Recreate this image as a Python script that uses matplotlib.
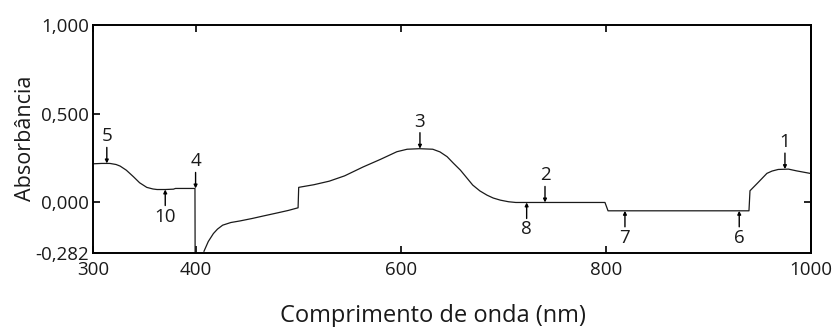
import numpy as np
import matplotlib
matplotlib.use("Agg")
import matplotlib.pyplot as plt
from matplotlib.ticker import FuncFormatter

plt.rcParams["font.family"] = ["Open Sans", "DejaVu Sans"]

# espectro de absorção (nm, absorbância); NaN separa o trecho que sai do gráfico
comprimento = [300, 308, 316, 322, 326, 332, 339, 345, 352, 358, 362, 370, 378, 380, 399,
               399.2, np.nan,
               407.8, 412, 417, 421, 426, 434, 443, 455, 465, 480, 490, 499.6,
               500.2, 503, 515, 530, 545, 563, 580, 596, 606, 618, 631, 638, 645, 651,
               658, 664, 670, 677, 684, 690, 697, 705, 712, 799, 802, 939.5,
               940.5, 948, 957, 962, 968, 978, 986, 1000]
absorbancia = [0.218, 0.22, 0.22, 0.214, 0.205, 0.182, 0.145, 0.111, 0.085, 0.076, 0.073, 0.073, 0.075, 0.079, 0.079,
               -0.40, np.nan,
               -0.275, -0.22, -0.175, -0.15, -0.128, -0.113, -0.104, -0.09, -0.077, -0.058, -0.045, -0.03,
               0.085, 0.088, 0.10, 0.12, 0.15, 0.20, 0.243, 0.286, 0.30, 0.303, 0.30, 0.285, 0.258, 0.222,
               0.182, 0.14, 0.098, 0.065, 0.041, 0.025, 0.013, 0.004, 0.0, 0.0, -0.047, -0.047,
               0.066, 0.11, 0.164, 0.177, 0.186, 0.188, 0.178, 0.163]

# picos marcados: rótulo, posição (nm), absorbância, lado da seta
picos = ["1", "2", "3", "4", "5", "6", "7", "8", "10"]
picos_nm = [974.6, 740.5, 618.5, 399.6, 313, 930, 818.5, 722.6, 370]
picos_abs = [0.188, 0.0, 0.303, 0.079, 0.22, -0.047, -0.047, 0.0, 0.073]
picos_lado = ["cima", "cima", "cima", "cima", "cima", "baixo", "baixo", "baixo", "baixo"]

y_ticks = [-0.282, 0.0, 0.5, 1.0]
x_ticks = [300, 400, 600, 800, 1000]

fig = plt.figure(figsize=(8.34, 3.27), dpi=100)
ax = fig.add_axes([0.1121, 0.2278, 0.8603, 0.6957])

ax.plot(comprimento, absorbancia, color="#1a1a1a", lw=0.9)

for rot, xn, ya, lado in zip(picos, picos_nm, picos_abs, picos_lado):
    s = 1 if lado == "cima" else -1
    ax.annotate("", xy=(xn, ya), xytext=(0, s * 16), textcoords="offset pixels",
                arrowprops=dict(arrowstyle="-|>", lw=1.0, color="black",
                                mutation_scale=5, shrinkA=0, shrinkB=0))
    ax.annotate(rot, xy=(xn, ya), xytext=(0, s * 18), textcoords="offset pixels",
                ha="center", va="bottom" if s > 0 else "top", fontsize=13.5, color="#1a1a1a")

ax.set_xlim(300, 1000)
ax.set_ylim(-0.282, 1.0)
ax.set_xticks(x_ticks)
ax.set_yticks(y_ticks)
ax.yaxis.set_major_formatter(FuncFormatter(lambda v, p: f"{v:.3f}".replace(".", ",")))
ax.tick_params(direction="in", length=5, width=1.2, top=True, right=False,
               labelsize=13.5, labelcolor="#1a1a1a")
ax.tick_params(axis="x", pad=6)
ax.tick_params(axis="y", pad=3)

# marca única no eixo direito, no zero
dir_ax = ax.secondary_yaxis("right")
dir_ax.set_yticks([0.0])
dir_ax.tick_params(direction="in", length=5, width=1.2, labelright=False)

for sp in ax.spines.values():
    sp.set_linewidth(1.4)
dir_ax.spines["right"].set_linewidth(1.4)

ax.set_ylabel("Absorbância", fontsize=15.5, color="#1a1a1a", labelpad=0)
fig.text(0.519, 0.034, "Comprimento de onda (nm)", fontsize=17, color="#1a1a1a",
         ha="center", va="center")

fig.savefig("out.png", dpi=100)
